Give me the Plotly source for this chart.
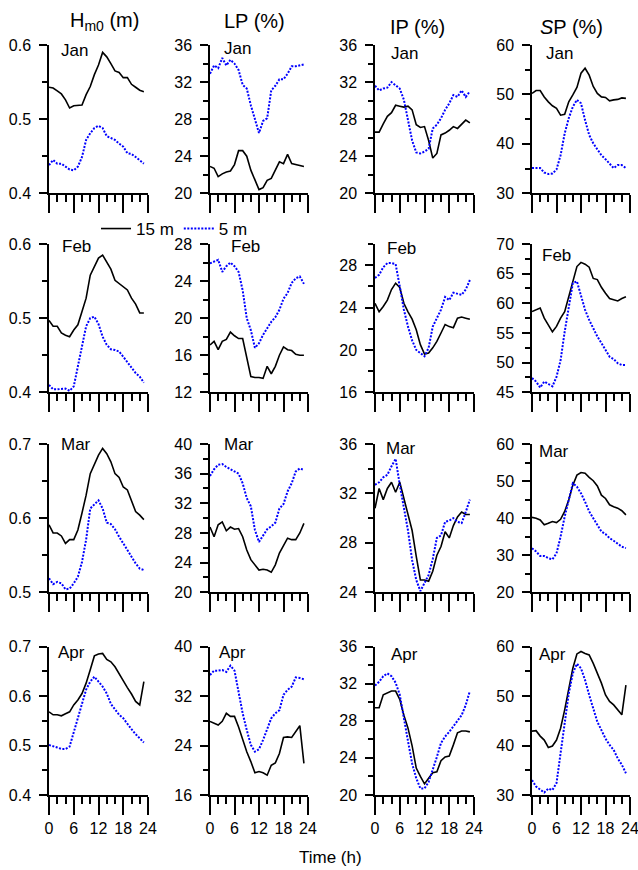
import plotly.graph_objects as go

W, H = 638, 870
FONT = "Liberation Sans, Arial, sans-serif"

hours = list(range(24))
months = ["Jan", "Feb", "Mar", "Apr"]
col_titles = ["H<sub>m0</sub> (m)", "LP (%)", "IP (%)", "<i>S</i>P (%)"]
series_names = ["15 m", "5 m"]
x_ticks = [0, 6, 12, 18, 24]

# ---- Hm0 (m) ----
hm0_jan_15 = [0.543, 0.542, 0.538, 0.534, 0.526, 0.515, 0.518, 0.518, 0.519, 0.533, 0.544, 0.560,
              0.573, 0.590, 0.584, 0.575, 0.565, 0.563, 0.556, 0.556, 0.547, 0.543, 0.539, 0.537]
hm0_jan_5 = [0.438, 0.445, 0.440, 0.440, 0.436, 0.432, 0.431, 0.436, 0.449, 0.472, 0.481, 0.488,
             0.491, 0.488, 0.477, 0.474, 0.472, 0.467, 0.463, 0.454, 0.453, 0.449, 0.445, 0.440]
hm0_feb_15 = [0.497, 0.489, 0.489, 0.480, 0.477, 0.475, 0.484, 0.491, 0.509, 0.527, 0.558, 0.569,
              0.581, 0.585, 0.576, 0.566, 0.551, 0.547, 0.542, 0.538, 0.527, 0.519, 0.507, 0.507]
hm0_feb_5 = [0.410, 0.404, 0.404, 0.405, 0.405, 0.402, 0.408, 0.435, 0.464, 0.489, 0.500, 0.502,
             0.492, 0.475, 0.464, 0.458, 0.457, 0.455, 0.448, 0.441, 0.434, 0.426, 0.421, 0.413]
hm0_mar_15 = [0.591, 0.580, 0.580, 0.576, 0.566, 0.571, 0.571, 0.584, 0.607, 0.631, 0.660, 0.672,
              0.685, 0.694, 0.687, 0.676, 0.660, 0.655, 0.642, 0.638, 0.622, 0.609, 0.604, 0.598]
hm0_mar_5 = [0.519, 0.511, 0.514, 0.512, 0.504, 0.505, 0.512, 0.521, 0.541, 0.571, 0.613, 0.618,
             0.624, 0.613, 0.594, 0.592, 0.585, 0.575, 0.565, 0.557, 0.548, 0.539, 0.532, 0.530]
hm0_apr_15 = [0.568, 0.562, 0.562, 0.560, 0.564, 0.568, 0.582, 0.592, 0.605, 0.626, 0.653, 0.681,
              0.685, 0.686, 0.674, 0.669, 0.659, 0.644, 0.631, 0.617, 0.604, 0.589, 0.582, 0.629]
hm0_apr_5 = [0.501, 0.499, 0.496, 0.493, 0.493, 0.498, 0.528, 0.558, 0.585, 0.613, 0.629, 0.639,
             0.629, 0.619, 0.605, 0.584, 0.573, 0.562, 0.555, 0.543, 0.533, 0.523, 0.514, 0.506]

# ---- LP (%) ----
lp_jan_15 = [22.9, 22.7, 21.8, 22.1, 22.3, 22.4, 23.1, 24.6, 24.6, 24.0, 22.5, 21.4,
             20.4, 20.6, 21.4, 21.6, 22.5, 23.4, 23.2, 24.2, 23.2, 23.1, 23.0, 22.9]
lp_jan_5 = [32.9, 33.8, 33.5, 34.6, 33.8, 34.4, 34.0, 33.3, 31.7, 31.3, 29.5, 27.9,
            26.5, 27.8, 28.1, 31.1, 31.6, 32.3, 32.3, 32.9, 33.7, 33.7, 33.8, 33.9]
lp_feb_15 = [17.1, 17.5, 16.6, 17.5, 17.7, 18.5, 18.1, 17.8, 17.8, 15.7, 13.7, 13.6,
             13.6, 13.5, 14.8, 14.0, 14.8, 16.0, 16.9, 16.6, 16.5, 16.1, 16.0, 16.0]
lp_feb_5 = [25.9, 26.1, 26.3, 25.0, 25.6, 26.0, 25.6, 25.0, 23.0, 20.0, 18.7, 16.8,
            17.3, 18.2, 18.9, 19.6, 20.1, 20.9, 22.1, 22.7, 23.8, 24.3, 24.5, 23.7]
lp_mar_15 = [28.8, 27.5, 29.1, 29.5, 28.3, 28.8, 28.5, 28.6, 27.5, 25.7, 24.4, 23.7,
             23.0, 23.1, 23.0, 22.7, 23.7, 25.3, 26.4, 27.3, 27.1, 27.1, 28.0, 29.3]
lp_mar_5 = [35.7, 36.6, 37.2, 37.3, 36.9, 36.6, 36.3, 36.0, 34.7, 32.7, 31.6, 28.4,
            26.8, 27.7, 28.5, 28.9, 29.4, 31.3, 31.9, 33.6, 34.7, 36.3, 36.7, 36.5]
lp_apr_15 = [27.9, 27.6, 27.3, 27.9, 29.2, 28.7, 28.7, 27.0, 24.9, 23.0, 21.4, 19.6,
             19.8, 19.6, 19.2, 20.8, 21.2, 22.7, 25.3, 25.4, 25.3, 26.2, 27.2, 21.1]
lp_apr_5 = [35.4, 36.1, 36.1, 36.2, 35.9, 36.9, 36.1, 32.4, 29.2, 26.5, 24.1, 23.0,
            23.4, 24.9, 26.5, 28.4, 29.2, 29.7, 32.2, 33.0, 33.5, 35.0, 34.9, 34.7]

# ---- IP (%) ----
ip_jan_15 = [26.6, 26.6, 27.5, 28.3, 28.7, 29.5, 29.4, 29.3, 29.4, 29.0, 27.4, 27.1,
             27.2, 25.7, 23.8, 24.3, 26.3, 26.5, 26.8, 27.2, 27.0, 27.5, 27.9, 27.6]
ip_jan_5 = [31.6, 31.1, 31.3, 31.4, 32.0, 31.7, 31.3, 30.1, 27.9, 25.7, 24.4, 24.3,
            24.5, 24.8, 27.0, 27.4, 28.1, 29.0, 29.7, 30.6, 30.4, 31.1, 30.4, 31.0]
ip_feb_15 = [24.4, 23.6, 24.1, 24.7, 25.7, 26.3, 25.9, 24.4, 23.6, 22.9, 21.9, 20.5,
             19.6, 19.7, 20.2, 20.8, 21.6, 22.4, 22.2, 22.1, 23.0, 23.1, 23.0, 22.9]
ip_feb_5 = [26.8, 27.1, 27.8, 28.2, 28.2, 28.1, 26.0, 23.8, 22.2, 20.9, 20.0, 19.7,
            19.4, 20.2, 22.2, 23.0, 23.8, 25.0, 24.7, 25.4, 25.3, 25.2, 25.7, 26.6]
ip_mar_15 = [30.8, 32.4, 31.5, 32.4, 32.9, 32.1, 32.9, 31.6, 30.3, 29.0, 26.9, 25.0,
             25.0, 24.9, 25.7, 27.0, 27.7, 28.9, 28.4, 29.4, 30.1, 30.5, 30.3, 30.3]
ip_mar_5 = [32.7, 32.9, 33.3, 33.5, 34.2, 34.8, 32.7, 30.9, 29.0, 26.6, 25.0, 24.1,
            24.7, 25.4, 26.7, 28.4, 28.6, 29.7, 29.8, 30.0, 29.7, 29.6, 30.5, 31.5]
ip_apr_15 = [29.4, 29.4, 30.8, 31.0, 31.2, 31.2, 30.3, 28.6, 27.2, 25.3, 22.9, 22.0,
             21.2, 21.8, 22.4, 22.5, 23.7, 24.1, 24.2, 25.4, 26.7, 26.9, 26.9, 26.8]
ip_apr_5 = [31.8, 32.2, 32.8, 33.1, 32.8, 32.1, 30.8, 28.5, 25.8, 23.4, 21.8, 20.7,
            20.7, 21.4, 22.7, 24.1, 25.6, 26.3, 26.8, 27.4, 27.9, 28.6, 29.7, 31.2]

# ---- SP (%) ----
sp_jan_15 = [50.2, 50.8, 50.8, 49.5, 48.5, 47.7, 47.2, 45.8, 46.0, 48.5, 49.9, 51.4,
             54.3, 55.3, 53.9, 51.6, 50.2, 49.5, 49.4, 48.7, 48.9, 49.0, 49.3, 49.2]
sp_jan_5 = [35.1, 35.1, 35.1, 34.2, 33.9, 34.0, 34.8, 37.7, 42.1, 45.2, 47.5, 48.9,
            48.2, 44.8, 41.8, 40.1, 38.8, 37.7, 36.9, 36.1, 35.1, 35.7, 35.7, 35.1]
sp_feb_15 = [58.6, 58.9, 59.2, 57.5, 56.3, 55.2, 56.1, 57.5, 58.6, 61.1, 63.9, 66.2,
             66.9, 66.6, 66.1, 64.2, 64.0, 62.7, 61.7, 60.8, 60.6, 60.4, 60.8, 61.1]
sp_feb_5 = [47.4, 46.8, 45.8, 46.8, 46.4, 46.0, 47.6, 50.4, 55.2, 59.4, 63.4, 63.7,
            61.1, 58.9, 57.2, 55.8, 54.4, 53.3, 52.1, 51.0, 50.6, 49.9, 49.6, 49.6]
sp_mar_15 = [40.2, 40.0, 39.5, 38.2, 38.6, 39.1, 38.8, 39.7, 41.8, 44.9, 48.9, 51.6,
             52.3, 52.1, 51.0, 50.1, 48.7, 46.2, 45.3, 43.6, 43.1, 42.7, 42.0, 40.9]
sp_mar_5 = [31.9, 31.0, 29.8, 29.8, 29.2, 28.9, 30.5, 35.0, 40.4, 45.3, 49.4, 48.5,
            46.7, 44.4, 41.8, 40.0, 38.2, 36.4, 35.7, 34.6, 33.9, 33.0, 32.3, 31.9]
sp_apr_15 = [42.9, 43.0, 41.9, 41.1, 39.6, 39.9, 41.1, 43.5, 47.2, 51.2, 55.6, 58.5,
             59.0, 58.6, 58.3, 56.6, 54.6, 52.6, 50.2, 48.9, 48.2, 47.2, 46.2, 52.2]
sp_apr_5 = [33.0, 31.7, 31.1, 30.5, 31.3, 31.0, 32.4, 38.4, 45.5, 50.5, 54.6, 56.5,
            55.6, 53.2, 50.2, 47.5, 44.8, 43.1, 41.4, 40.1, 39.1, 37.4, 36.1, 34.4]

# y-axis ranges / tick spacing per panel (row = month, col = variable)
y_ranges = [
    [[0.4, 0.6], [20, 36], [20, 36], [30, 60]],
    [[0.4, 0.6], [12, 28], [16, 30], [45, 70]],
    [[0.5, 0.7], [20, 40], [24, 36], [20, 60]],
    [[0.4, 0.7], [16, 40], [20, 36], [30, 60]],
]
y_dticks = [
    [0.1, 4, 4, 10],
    [0.1, 4, 4, 5],
    [0.1, 4, 4, 10],
    [0.1, 8, 4, 10],
]
y_minor = [
    [0.05, 2, 2, 5],
    [0.05, 2, 2, 2.5],
    [0.05, 2, 2, 5],
    [0.05, 4, 2, 5],
]

data15 = [
    [hm0_jan_15, lp_jan_15, ip_jan_15, sp_jan_15],
    [hm0_feb_15, lp_feb_15, ip_feb_15, sp_feb_15],
    [hm0_mar_15, lp_mar_15, ip_mar_15, sp_mar_15],
    [hm0_apr_15, lp_apr_15, ip_apr_15, sp_apr_15],
]
data5 = [
    [hm0_jan_5, lp_jan_5, ip_jan_5, sp_jan_5],
    [hm0_feb_5, lp_feb_5, ip_feb_5, sp_feb_5],
    [hm0_mar_5, lp_mar_5, ip_mar_5, sp_mar_5],
    [hm0_apr_5, lp_apr_5, ip_apr_5, sp_apr_5],
]

# ---- layout geometry (pixels) ----
col_px = [(49, 148), (210, 308), (375, 474), (532, 630)]
row_px = [(45, 193.3), (244, 392.3), (444, 592.3), (646.5, 795)]


def px_x(x):
    return x / W


def px_y(y):
    return 1 - y / H


BLACK = "#000000"
BLUE = "#0000ff"

fig = go.Figure()
layout_axes = {}
annotations = []

for r in range(4):
    for c in range(4):
        k = r * 4 + c + 1
        xa = "x" if k == 1 else f"x{k}"
        ya = "y" if k == 1 else f"y{k}"
        xkey = "xaxis" if k == 1 else f"xaxis{k}"
        ykey = "yaxis" if k == 1 else f"yaxis{k}"
        fig.add_trace(go.Scatter(
            x=hours, y=data15[r][c], mode="lines", name=series_names[0],
            line=dict(color=BLACK, width=1.6), xaxis=xa, yaxis=ya,
            showlegend=(k == 1), legendrank=1))
        fig.add_trace(go.Scatter(
            x=hours, y=data5[r][c], mode="lines", name=series_names[1],
            line=dict(color=BLUE, width=2, dash="2px,1.5px"), xaxis=xa, yaxis=ya,
            showlegend=(k == 1), legendrank=2))
        x0, x1 = col_px[c]
        yt, yb = row_px[r]
        layout_axes[xkey] = dict(
            domain=[px_x(x0), px_x(x1)], anchor=ya, range=[0, 24], automargin=False,
            tickmode="array", tickvals=x_ticks, ticktext=[str(v) for v in x_ticks],
            showticklabels=(r == 3), ticks="outside", ticklen=18, tickwidth=1.5,
            tickcolor=BLACK, showline=True, linecolor=BLACK, linewidth=1.5,
            showgrid=False, zeroline=False, ticklabeloverflow="allow",
            minor=dict(dtick=2, tick0=0, ticks="outside", ticklen=7,
                       tickwidth=1.5, tickcolor=BLACK, showgrid=False),
            tickfont=dict(family=FONT, size=16, color=BLACK),
        )
        lo, hi = y_ranges[r][c]
        layout_axes[ykey] = dict(
            domain=[px_y(yb), px_y(yt)], anchor=xa, range=[lo, hi], automargin=False,
            tick0=lo, dtick=y_dticks[r][c], ticks="outside", ticklen=8,
            tickwidth=1.5, tickcolor=BLACK, showline=True, linecolor=BLACK,
            linewidth=1.5, showgrid=False, zeroline=False, ticklabeloverflow="allow",
            tickformat=".1f" if c == 0 else "d",
            minor=dict(dtick=y_minor[r][c], tick0=lo, ticks="outside", ticklen=5,
                       tickwidth=1.5, tickcolor=BLACK, showgrid=False),
            tickfont=dict(family=FONT, size=16, color=BLACK),
            ticklabelstandoff=5,
        )

# column titles
title_pos = [(104, 21), (254, 21), (417.5, 27), (571.5, 27)]
for c in range(4):
    annotations.append(dict(
        text=col_titles[c], x=px_x(title_pos[c][0]), y=px_y(title_pos[c][1]),
        xref="paper", yref="paper", showarrow=False, xanchor="center", yanchor="middle",
        font=dict(family=FONT, size=20, color=BLACK)))

# month labels (left x, centre y in px)
month_pos = [
    [(59, 50), (222, 48), (389, 53), (544, 53)],
    [(60, 246.5), (229, 246.5), (385, 248.5), (540, 255)],
    [(59, 444), (222, 444), (384, 448.5), (537, 451.5)],
    [(56, 652), (217, 652), (389, 654), (537, 654)],
]
for r in range(4):
    for c in range(4):
        mx, my = month_pos[r][c]
        annotations.append(dict(
            text=months[r], x=px_x(mx), y=px_y(my), xref="paper", yref="paper",
            showarrow=False, xanchor="left", yanchor="middle",
            font=dict(family=FONT, size=17, color=BLACK)))

annotations.append(dict(
    text="Time (h)", x=px_x(330), y=px_y(857), xref="paper", yref="paper",
    showarrow=False, xanchor="center", yanchor="middle",
    font=dict(family=FONT, size=17, color=BLACK)))

fig.update_layout(
    template="none",
    width=W, height=H, margin=dict(l=0, r=0, t=0, b=0, pad=0, autoexpand=False),
    paper_bgcolor="white", plot_bgcolor="white",
    font=dict(family=FONT, size=16, color=BLACK),
    showlegend=True,
    legend=dict(orientation="h", x=px_x(96), y=px_y(229), xanchor="left", yanchor="middle",
                bgcolor="rgba(0,0,0,0)", borderwidth=0,
                font=dict(family=FONT, size=17, color=BLACK),
                itemwidth=30, tracegroupgap=0, traceorder="normal"),
    annotations=annotations,
    **layout_axes,
)

fig.write_html(
    "out.html",
    config={"displayModeBar": False},
    post_script="document.body.style.margin='0';document.body.style.overflow='hidden';",
)
